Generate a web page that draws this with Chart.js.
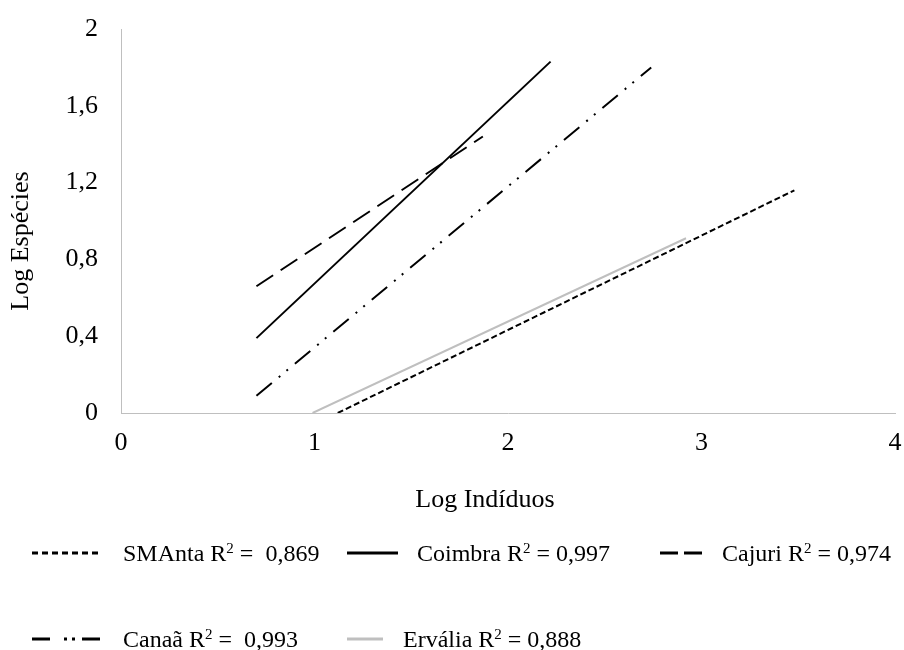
<!DOCTYPE html>
<html><head><meta charset="utf-8">
<script src="https://cdn.jsdelivr.net/npm/chart.js@4.4.1/dist/chart.umd.min.js"></script>
<style>
html,body{margin:0;padding:0;background:#fff;}
#wrap{position:relative;width:904px;height:650px;overflow:hidden;}
#c{position:absolute;left:0;top:0;}
.lt{position:absolute;font-family:"Liberation Serif","Times New Roman",serif;font-size:24px;line-height:24px;color:#000;white-space:pre;}
.lt sup{font-size:15px;line-height:0;position:relative;top:1px;vertical-align:super;}
.ls{position:absolute;}
</style></head><body>
<div id="wrap"><canvas id="c" width="904" height="650"></canvas><div id="legend"></div></div>
<script>
// ---- data ----
const seriesNames = ['SMAnta', 'Coimbra', 'Cajuri', 'Canaã', 'Ervália'];
const r2Labels = [' =  0,869', ' = 0,997', ' = 0,974', ' =  0,993', ' = 0,888'];
const smAntaX = [1.12, 3.48];
const smAntaY = [0.00, 1.16];
const coimbraX = [0.70, 2.22];
const coimbraY = [0.39, 1.83];
const cajuriX = [0.70, 1.87];
const cajuriY = [0.66, 1.44];
const canaaX = [0.70, 2.74];
const canaaY = [0.09, 1.80];
const ervaliaX = [0.99, 2.92];
const ervaliaY = [0.00, 0.91];
const xTickLabels = ['0', '1', '2', '3', '4'];
const yTickLabels = ['0', '0,4', '0,8', '1,2', '1,6', '2'];
const xTitle = 'Log Indíduos';
const yTitle = 'Log Espécies';

// ---- styles / layout ----
const FONT = '"Liberation Serif", "Times New Roman", serif';
const styles = [
  {color: '#000000', width: 2, dash: [6, 3], legDash: '6 4'},
  {color: '#000000', width: 2, dash: [], legDash: ''},
  {color: '#000000', width: 2, dash: [20, 9], legDash: '18 6'},
  {color: '#000000', width: 2, dash: [20, 9, 2, 8, 2, 9], legDash: '18 14 3 5 3 7 18 60'},
  {color: '#BFBFBF', width: 2, dash: [], legDash: ''}
];
const legendLayout = [
  {sx: 32, sw: 68, tx: 123, cy: 553},
  {sx: 347, sw: 51, tx: 417, cy: 553},
  {sx: 660, sw: 42, tx: 722, cy: 553},
  {sx: 32, sw: 68, tx: 123, cy: 639},
  {sx: 347, sw: 36, tx: 403, cy: 639}
];
const titlePos = {x: {cx: 485, cy: 500}, y: {cx: 21, cy: 241}};

function pts(xs, ys) { return xs.map((x, i) => ({x: x, y: ys[i]})); }
const seriesData = [pts(smAntaX, smAntaY), pts(coimbraX, coimbraY), pts(cajuriX, cajuriY), pts(canaaX, canaaY), pts(ervaliaX, ervaliaY)];

const datasets = seriesNames.map((n, i) => ({
  label: n,
  data: seriesData[i],
  showLine: true,
  fill: false,
  borderColor: styles[i].color,
  backgroundColor: styles[i].color,
  borderWidth: styles[i].width,
  borderDash: styles[i].dash,
  borderCapStyle: 'butt',
  pointRadius: 0,
  pointHoverRadius: 0,
  tension: 0
}));

const axisTitles = {
  id: 'axisTitles',
  afterDraw(chart) {
    const ctx = chart.ctx;
    ctx.save();
    ctx.fillStyle = '#000';
    ctx.font = '26px ' + FONT;
    ctx.textAlign = 'center';
    ctx.textBaseline = 'middle';
    ctx.fillText(xTitle, titlePos.x.cx, titlePos.x.cy);
    ctx.translate(titlePos.y.cx, titlePos.y.cy);
    ctx.rotate(-Math.PI / 2);
    ctx.fillText(yTitle, 0, 0);
    ctx.restore();
  }
};

new Chart(document.getElementById('c'), {
  type: 'scatter',
  data: {datasets: datasets},
  plugins: [axisTitles],
  options: {
    responsive: false,
    animation: false,
    layout: {padding: {left: 0, right: 9, top: 29, bottom: 135}},
    plugins: {legend: {display: false}, tooltip: {enabled: false}},
    scales: {
      x: {
        type: 'linear', min: 0, max: 4,
        grid: {display: false, drawTicks: false},
        border: {display: true, color: '#BFBFBF', width: 1},
        ticks: {stepSize: 1, padding: 15, color: '#000', font: {family: FONT, size: 26},
                callback: (v, i) => xTickLabels[i]},
        title: {display: false},
        afterFit: s => { s.height = 102; s.paddingLeft = 0; s.paddingRight = 0; }
      },
      y: {
        type: 'linear', min: 0, max: 2,
        grid: {display: false, drawTicks: false},
        border: {display: true, color: '#BFBFBF', width: 1},
        ticks: {stepSize: 0.4, padding: 23, color: '#000', font: {family: FONT, size: 26},
                callback: (v, i) => yTickLabels[i]},
        title: {display: false},
        afterFit: s => { s.width = 121; s.paddingTop = 0; s.paddingBottom = 0; }
      }
    }
  }
});

// ---- legend (HTML, built from the series arrays) ----
const leg = document.getElementById('legend');
seriesNames.forEach((n, i) => {
  const L = legendLayout[i], S = styles[i];
  const svg = document.createElementNS('http://www.w3.org/2000/svg', 'svg');
  svg.setAttribute('class', 'ls');
  svg.setAttribute('width', L.sw);
  svg.setAttribute('height', 6);
  svg.style.left = L.sx + 'px';
  svg.style.top = (L.cy - 3) + 'px';
  const ln = document.createElementNS('http://www.w3.org/2000/svg', 'line');
  ln.setAttribute('x1', 0); ln.setAttribute('y1', 3);
  ln.setAttribute('x2', L.sw); ln.setAttribute('y2', 3);
  ln.setAttribute('stroke', S.color);
  ln.setAttribute('stroke-width', 3);
  if (S.legDash) ln.setAttribute('stroke-dasharray', S.legDash);
  svg.appendChild(ln);
  leg.appendChild(svg);
  const t = document.createElement('div');
  t.className = 'lt';
  t.style.left = L.tx + 'px';
  t.style.top = (L.cy - 12) + 'px';
  t.innerHTML = n + ' R<sup>2</sup>' + r2Labels[i];
  leg.appendChild(t);
});
</script>
</body></html>
